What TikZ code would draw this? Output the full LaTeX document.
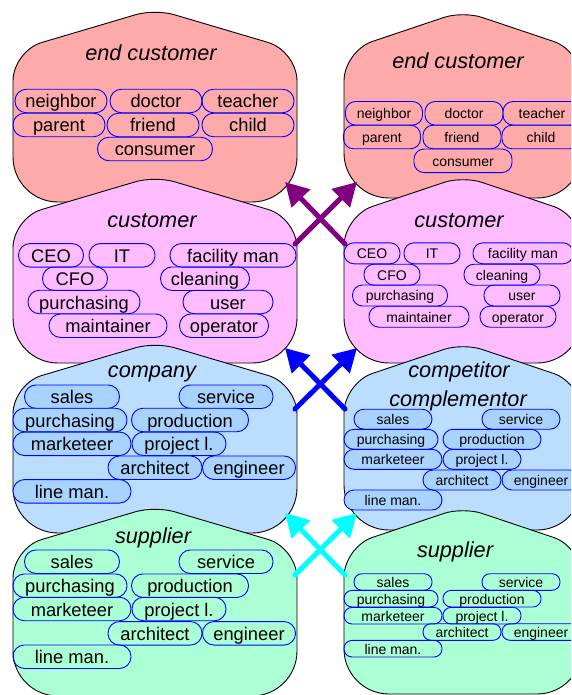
\documentclass[tikz,border=0pt]{standalone}
\usepackage{fontspec}
\setmainfont{Liberation Sans}
\usepackage{tikz}
\usetikzlibrary{arrows.meta}
\definecolor{endcol}{HTML}{FFAAAA}
\definecolor{custcol}{HTML}{FFBBFF}
\definecolor{compcol}{HTML}{BBDDFF}
\definecolor{suppcol}{HTML}{AAFFD5}
\definecolor{rolecol}{HTML}{A8D3FF}
\definecolor{arrpurple}{HTML}{800080}
\definecolor{arrblue}{HTML}{0000FF}
\definecolor{arrcyan}{HTML}{00FFFF}
\tikzstyle{shell}  = [draw=black, line width=0.9pt]
\tikzstyle{title}  = [font=\fontsize{21.7}{24}\selectfont\itshape, anchor=base, inner sep=0pt]
\tikzstyle{role}   = [draw=blue, line width=0.9pt, rounded corners=11.5pt, inner xsep=1pt, inner ysep=0pt, text height=17.7pt, text depth=3.7pt, minimum height=23.5pt, font=\fontsize{18.3}{20}\selectfont]
\tikzstyle{srole}  = [role, rounded corners=10pt, minimum height=21pt, text height=13.6pt, text depth=2.8pt, font=\fontsize{14}{16}\selectfont]
\tikzstyle{xsrole} = [srole, rounded corners=8pt, minimum height=16.6pt]
\tikzstyle{flow}   = [line width=5pt, line cap=round, -{Triangle[length=23pt,width=25pt]}]
\begin{document}
\begin{tikzpicture}[x=1pt,y=-1pt]
	\clip (0,0) rectangle (571,695);

	% left column
	\draw[shell, fill=endcol] (155,202) [rounded corners=45] -- (13,202) [rounded corners=30] -- (13,51) [rounded corners=20] -- (155,9) [rounded corners=30] -- (297,51) [rounded corners=45] -- (297,202) -- cycle;
	\node[title] (endL) at (151,61) {end customer};
	\node[role, minimum width=92] (endL-neighbor) at (61,101) {neighbor};
	\node[role, minimum width=92] (endL-doctor) at (156,101) {doctor};
	\node[role, minimum width=92] (endL-teacher) at (248,101) {teacher};
	\node[role, minimum width=92] (endL-parent) at (59,125) {parent};
	\node[role, minimum width=92] (endL-friend) at (153,125) {friend};
	\node[role, minimum width=92] (endL-child) at (248,125) {child};
	\node[role, minimum width=115] (endL-consumer) at (155,149) {consumer};

	\draw[shell, fill=custcol] (155,363) [rounded corners=45] -- (13,363) [rounded corners=30] -- (13,218) [rounded corners=20] -- (155,176) [rounded corners=30] -- (297,218) [rounded corners=45] -- (297,363) -- cycle;
	\node[title] (custL) at (152,227) {customer};
	\node[role, minimum width=65] (custL-ceo) at (51,255.3) {CEO};
	\node[role, minimum width=66] (custL-it) at (122,255.3) {IT};
	\node[role, minimum width=126] (custL-facility) at (233,255.3) {facility man};
	\node[role, minimum width=65] (custL-cfo) at (75,278.7) {CFO};
	\node[role, minimum width=89] (custL-cleaning) at (205,278.7) {cleaning};
	\node[role, minimum width=112] (custL-purchasing) at (84,302) {purchasing};
	\node[role, minimum width=90] (custL-user) at (228,302) {user};
	\node[role, minimum width=118] (custL-maintainer) at (108,325.7) {maintainer};
	\node[role, minimum width=89] (custL-operator) at (224,325.7) {operator};

	\draw[shell, fill=compcol] (155,533) [rounded corners=45] -- (13,533) [rounded corners=30] -- (13,384) [rounded corners=20] -- (155,342) [rounded corners=30] -- (297,384) [rounded corners=45] -- (297,533) -- cycle;
	\node[title] (compL) at (152,377) {company};
	\node[role, fill=rolecol, minimum width=95] (compL-sales) at (72,396.7) {sales};
	\node[role, fill=rolecol, minimum width=94] (compL-service) at (226,396.7) {service};
	\node[role, fill=rolecol, minimum width=114] (compL-purchasing) at (70,420) {purchasing};
	\node[role, fill=rolecol, minimum width=117] (compL-production) at (190,420) {production};
	\node[role, fill=rolecol, minimum width=118] (compL-marketeer) at (72,443.8) {marketeer};
	\node[role, fill=rolecol, minimum width=94] (compL-project) at (179,443.8) {project l.};
	\node[role, fill=rolecol, minimum width=94] (compL-architect) at (155,467.7) {architect};
	\node[role, fill=rolecol, minimum width=93] (compL-engineer) at (249,467.7) {engineer};
	\node[role, fill=rolecol, minimum width=118] (compL-lineman) at (72,491.3) {line man.};

	\draw[shell, fill=suppcol] (155,696) [rounded corners=45] -- (13,696) [rounded corners=30] -- (13,548) [rounded corners=20] -- (155,506) [rounded corners=30] -- (297,548) [rounded corners=45] -- (297,696) -- cycle;
	\node[title] (suppL) at (153,543) {supplier};
	\node[role, minimum width=95] (suppL-sales) at (72,561.7) {sales};
	\node[role, minimum width=94] (suppL-service) at (226,561.7) {service};
	\node[role, minimum width=114] (suppL-purchasing) at (70,585.7) {purchasing};
	\node[role, minimum width=117] (suppL-production) at (190,585.7) {production};
	\node[role, minimum width=118] (suppL-marketeer) at (72,609) {marketeer};
	\node[role, minimum width=94] (suppL-project) at (179,609) {project l.};
	\node[role, minimum width=94] (suppL-architect) at (155,633.3) {architect};
	\node[role, minimum width=93] (suppL-engineer) at (249,633.3) {engineer};
	\node[role, minimum width=118] (suppL-lineman) at (72,656.7) {line man.};

	% right column
	\draw[shell, fill=endcol] (463,198) [rounded corners=45] -- (344,198) [rounded corners=30] -- (344,51) [rounded corners=20] -- (463,11) [rounded corners=30] -- (582,51) [rounded corners=45] -- (582,198) -- cycle;
	\node[title] (endR) at (458,69) {end customer};
	\node[srole, minimum height=23.5, minimum width=77] (endR-neighbor) at (384,113.3) {neighbor};
	\node[srole, minimum height=23.5, minimum width=78] (endR-doctor) at (464,113.3) {doctor};
	\node[srole, minimum height=23.5, minimum width=78] (endR-teacher) at (542,113.3) {teacher};
	\node[srole, minimum height=23.5, minimum width=77] (endR-parent) at (382,137) {parent};
	\node[srole, minimum height=23.5, minimum width=78] (endR-friend) at (462,137) {friend};
	\node[srole, minimum height=23.5, minimum width=78] (endR-child) at (541,137) {child};
	\node[srole, minimum height=23.5, minimum width=98] (endR-consumer) at (463,160.8) {consumer};

	\draw[shell, fill=custcol] (463,363) [rounded corners=45] -- (344,363) [rounded corners=30] -- (344,216) [rounded corners=20] -- (463,176) [rounded corners=30] -- (582,216) [rounded corners=45] -- (582,363) -- cycle;
	\node[title] (custR) at (459,227) {customer};
	\node[srole, minimum width=56] (custR-ceo) at (372,253.3) {CEO};
	\node[srole, minimum width=56] (custR-it) at (432,253.3) {IT};
	\node[srole, minimum width=100] (custR-facility) at (523,253.3) {facility man};
	\node[srole, minimum width=56] (custR-cfo) at (392,274.7) {CFO};
	\node[srole, minimum width=76] (custR-cleaning) at (502,274.7) {cleaning};
	\node[srole, minimum width=95] (custR-purchasing) at (400,295.5) {purchasing};
	\node[srole, minimum width=76] (custR-user) at (522,295.5) {user};
	\node[srole, minimum width=100] (custR-maintainer) at (419,316.7) {maintainer};
	\node[srole, minimum width=76] (custR-operator) at (518,316.7) {operator};

	\draw[shell, fill=compcol] (463,530) [rounded corners=45] -- (344,530) [rounded corners=30] -- (344,383) [rounded corners=20] -- (463,343) [rounded corners=30] -- (582,383) [rounded corners=45] -- (582,530) -- cycle;
	\node[title] (compR) at (459,377) {competitor};
	\node[title] (compR2) at (458,406) {complementor};
	\node[srole, fill=rolecol, minimum height=20, minimum width=78] (compR-sales) at (393,419.2) {sales};
	\node[srole, fill=rolecol, minimum height=20, minimum width=78] (compR-service) at (521,419.2) {service};
	\node[srole, fill=rolecol, minimum height=20, minimum width=94] (compR-purchasing) at (391,439.3) {purchasing};
	\node[srole, fill=rolecol, minimum height=20, minimum width=98] (compR-production) at (492,439.3) {production};
	\node[srole, fill=rolecol, minimum height=20, minimum width=98] (compR-marketeer) at (393,459.3) {marketeer};
	\node[srole, fill=rolecol, minimum height=20, minimum width=78] (compR-project) at (482,459.3) {project l.};
	\node[srole, fill=rolecol, minimum height=20, minimum width=78] (compR-architect) at (462,480) {architect};
	\node[srole, fill=rolecol, minimum height=20, minimum width=78] (compR-engineer) at (541,480) {engineer};
	\node[srole, fill=rolecol, minimum height=20, minimum width=98] (compR-lineman) at (393,500) {line man.};

	\draw[shell, fill=suppcol] (463,694) [rounded corners=45] -- (344,694) [rounded corners=30] -- (344,547) [rounded corners=20] -- (463,507) [rounded corners=30] -- (582,547) [rounded corners=45] -- (582,694) -- cycle;
	\node[title] (suppR) at (455,557) {supplier};
	\node[xsrole, minimum width=78] (suppR-sales) at (393,582) {sales};
	\node[xsrole, minimum width=78] (suppR-service) at (521,582) {service};
	\node[xsrole, minimum width=94] (suppR-purchasing) at (391,598.7) {purchasing};
	\node[xsrole, minimum width=98] (suppR-production) at (492,598.7) {production};
	\node[xsrole, minimum width=98] (suppR-marketeer) at (393,615.7) {marketeer};
	\node[xsrole, minimum width=78] (suppR-project) at (482,615.7) {project l.};
	\node[xsrole, minimum width=78] (suppR-architect) at (462,632) {architect};
	\node[xsrole, minimum width=78] (suppR-engineer) at (541,632) {engineer};
	\node[xsrole, minimum width=98] (suppR-lineman) at (393,648.7) {line man.};

	% flows between the columns
	\coordinate (custL-out) at (295,244);
	\coordinate (custR-out) at (345,244);
	\coordinate (endL-in) at (285,182);
	\coordinate (endR-in) at (357,182);
	\coordinate (compL-out) at (295,409);
	\coordinate (compR-out) at (345,409);
	\coordinate (custL-in) at (285,348);
	\coordinate (custR-in) at (357,348);
	\coordinate (suppL-out) at (295,575);
	\coordinate (suppR-out) at (345,575);
	\coordinate (compL-in) at (285,513);
	\coordinate (compR-in) at (357,513);

	\draw[flow, arrpurple] (custL-out) -- (endR-in);
	\draw[flow, arrpurple] (custR-out) -- (endL-in);
	\draw[flow, arrblue] (compL-out) -- (custR-in);
	\draw[flow, arrblue] (compR-out) -- (custL-in);
	\draw[flow, arrcyan] (suppL-out) -- (compR-in);
	\draw[flow, arrcyan] (suppR-out) -- (compL-in);
\end{tikzpicture}
\end{document}
